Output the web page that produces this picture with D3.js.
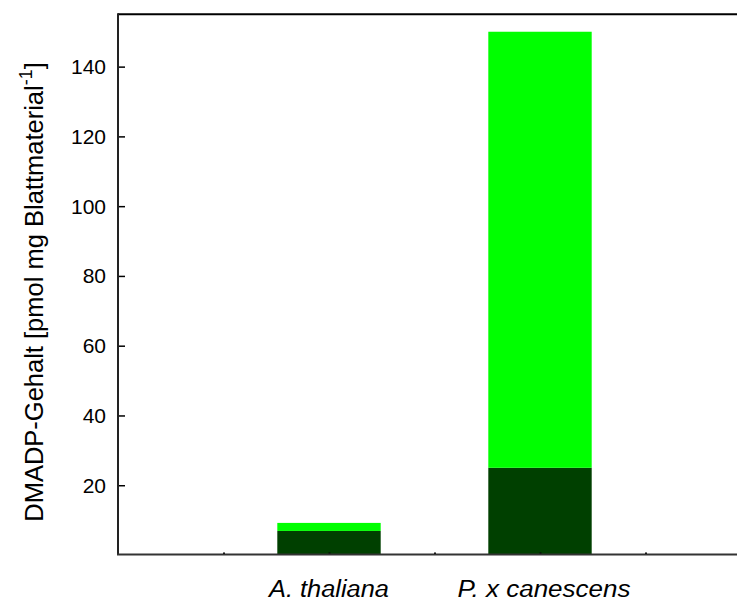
<!DOCTYPE html>
<html>
<head>
<meta charset="utf-8">
<script src="https://cdn.jsdelivr.net/npm/d3@7"></script>
<style>
  html, body { margin: 0; padding: 0; background: #fff; }
  svg { display: block; font-family: Arial, "Liberation Sans", sans-serif; }
</style>
</head>
<body>
<svg id="chart" width="737" height="601"></svg>
<script>
// ---- data ----
const categories = ["A. thaliana", "P. x canescens"];
const darkValues = [6.9, 25];      // lower (dark green) segment
const lightValues = [2.3, 125];    // upper (light green) segment
const yTicks = [20, 40, 60, 80, 100, 120, 140];
const yLabel = "DMADP-Gehalt [pmol mg Blattmaterial";
const yLabelSup = "-1";
const yLabelEnd = "]";

// ---- layout ----
const W = 737, H = 601;
const mLeft = 118, mTop = 14.3, mBottom = 555, mRight = 751;
const svg = d3.select("#chart");

// slots: 0..6 across the x axis, categories sit at slots 2 and 4
const x = d3.scaleLinear().domain([0, 6]).range([mLeft, mRight]);
const slotOf = i => 2 * (i + 1);
const y = d3.scaleLinear().domain([0, 155]).range([mBottom, mTop]);
const barW = (x(1) - x(0)) * 0.98;

const colors = { dark: "#004000", light: "#00ff00" };

// bars
const stacks = categories.map((c, i) => ({
  c, i, dark: darkValues[i], light: lightValues[i]
}));
const g = svg.append("g");
g.selectAll("rect.dark").data(stacks).join("rect")
  .attr("class", "dark")
  .attr("x", d => x(slotOf(d.i)) - barW / 2)
  .attr("width", barW)
  .attr("y", d => y(d.dark))
  .attr("height", d => y(0) - y(d.dark))
  .attr("fill", colors.dark);
g.selectAll("rect.light").data(stacks).join("rect")
  .attr("class", "light")
  .attr("x", d => x(slotOf(d.i)) - barW / 2)
  .attr("width", barW)
  .attr("y", d => y(d.dark + d.light))
  .attr("height", d => y(d.dark) - y(d.dark + d.light))
  .attr("fill", colors.light);

// y axis (inward ticks)
const yAxis = d3.axisRight(y).tickValues(yTicks).tickSize(7).tickFormat("");
const ya = svg.append("g").attr("transform", `translate(${mLeft},0)`).call(yAxis);
ya.select(".domain").remove();
ya.selectAll(".tick line").attr("stroke", "#000").attr("stroke-width", 1.5);
svg.append("g").selectAll("text").data(yTicks).join("text")
  .attr("x", mLeft - 12)
  .attr("y", d => y(d))
  .attr("dy", "0.36em")
  .attr("text-anchor", "end")
  .attr("font-size", 21)
  .attr("fill", "#000")
  .text(d => d);

// x axis tiny inward ticks
const xAxis = d3.axisTop(x).tickValues([1, 2, 3, 4, 5]).tickSize(2).tickFormat("");
const xa = svg.append("g").attr("transform", `translate(0,${mBottom - 0.5})`).call(xAxis);
xa.select(".domain").remove();
xa.selectAll(".tick line").attr("stroke", "#000").attr("stroke-width", 2);

// frame lines
svg.append("line").attr("x1", mLeft).attr("x2", W).attr("y1", mTop).attr("y2", mTop)
  .attr("stroke", "#000").attr("stroke-width", 2);
svg.append("line").attr("x1", mLeft).attr("x2", mLeft).attr("y1", mTop - 1).attr("y2", mBottom)
  .attr("stroke", "#222").attr("stroke-width", 2);
svg.append("line").attr("x1", mLeft - 1).attr("x2", W).attr("y1", mBottom - 0.5).attr("y2", mBottom - 0.5)
  .attr("stroke", "#333").attr("stroke-width", 2);

// x category labels
const labelWidths = [120, 173];
svg.append("g").selectAll("text").data(categories).join("text")
  .attr("x", (d, i) => x(slotOf(i)) + (i === 1 ? 4 : 0))
  .attr("y", 596.5)
  .attr("text-anchor", "middle")
  .attr("font-style", "italic")
  .attr("font-size", 23)
  .attr("textLength", (d, i) => labelWidths[i])
  .attr("lengthAdjust", "spacingAndGlyphs")
  .attr("fill", "#000")
  .text(d => d);

// y label
const yl = svg.append("text")
  .attr("transform", `translate(43,292) rotate(-90)`)
  .attr("text-anchor", "middle")
  .attr("font-size", 25.5)
  .attr("fill", "#000");
yl.append("tspan").text(yLabel);
yl.append("tspan").attr("font-size", 18).attr("dy", -11).text(yLabelSup);
yl.append("tspan").attr("dy", 11).text(yLabelEnd);
</script>
</body>
</html>
